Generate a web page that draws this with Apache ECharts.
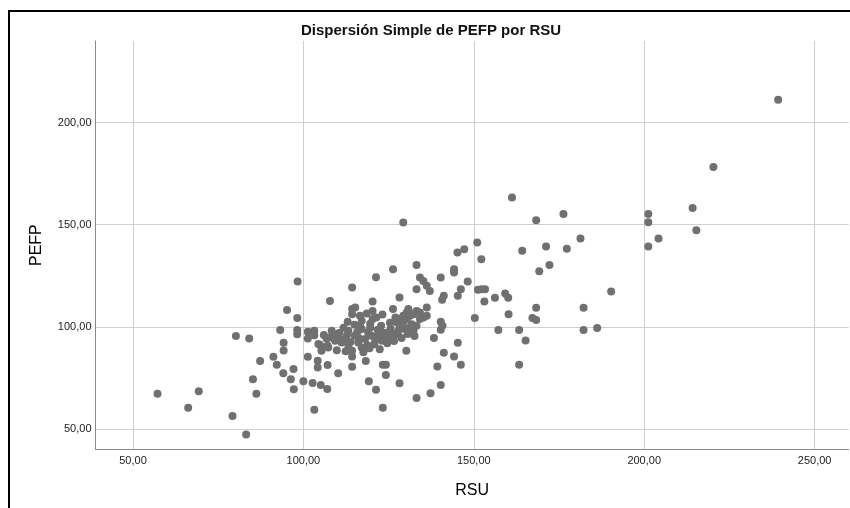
<!DOCTYPE html>
<html>
<head>
<meta charset="utf-8">
<script src="https://cdn.jsdelivr.net/npm/echarts@6/dist/echarts.min.js"></script>
<style>
html,body{margin:0;padding:0;background:#fff;}
#c{width:850px;height:508px;}
</style>
</head>
<body>
<div id="c"></div>
<script>
// Data: RSU (x) and PEFP (y)
const rsu = [
  57.2,69.3,66.2,79.2,83.2,80.2,84.1,87.3,85.2,86.2,91.2,92.2,94.1,96.3,97.2,97.1,94.2,94.2,93.2,95.2,
  98.2,98.2,98.2,101.3,101.3,103.2,103.2,101.3,104.2,104.2,100.0,102.7,105.1,107.1,107.0,103.2,104.4,105.4,106.8,107.1,
  107.8,
  129.3,98.3,110.2,114.3,121.3,126.3,133.2,114.3,115.2,114.3,116.6,117.1,116.6,117.1,120.3,120.3,120.3,126.3,128.2,
  134.2,135.2,136.2,137.1,133.2,136.2,136.2,140.3,144.2,144.2,145.2,147.2,151.0,148.2,146.2,145.3,141.2,140.7,151.2,150.3,
  140.3,140.8,140.3,138.3,145.3,130.2,141.2,144.2,146.2,139.3,140.3,137.3,133.2,128.2,124.2,123.3,124.2,119.2,121.3,123.3,
  118.3,114.3,114.3,114.3,
  104.9,105.3,107.3,108.3,108.8,107.8,109.3,110.2,111.2,112.2,113.2,113.2,115.1,116.1,117.1,118.1,119.0,120.0,121.0,122.0,
  122.5,123.0,123.9,124.9,125.9,126.9,127.9,128.3,129.3,130.3,131.3,132.3,133.2,127.4,128.3,129.3,130.3,130.8,131.8,132.3,
  133.2,134.2,135.2,134.2,
  110.5,111.8,112.8,113.8,115.8,116.2,118.8,119.6,120.8,121.8,122.8,123.8,124.6,125.6,126.6,127.4,128.8,129.6,130.6,131.4,
  132.6,106.0,109.8,112.4,117.6,119.4,122.4,125.4,127.0,119.6,115.0,113.0,121.4,123.2,118.6,
  239.3,220.3,214.2,215.3,201.2,201.2,204.2,201.2,161.2,168.3,176.3,181.3,177.3,171.2,172.2,169.2,164.2,152.2,152.3,153.3,
  153.1,156.2,159.2,160.1,160.2,157.2,163.3,165.2,163.3,168.3,167.2,168.3,182.2,182.2,186.2,190.3
];
const pefp = [
  67.2,68.4,60.4,56.3,47.3,95.5,94.3,83.2,74.3,67.2,85.3,81.4,77.3,74.3,69.4,79.3,88.4,92.2,98.4,108.2,
  104.3,98.4,96.4,97.6,94.3,98.1,95.9,85.3,83.4,80.1,73.3,72.5,71.5,81.3,69.5,59.4,91.6,89.1,94.3,90.7,
  112.7,
  151.1,122.2,77.3,119.3,124.3,128.2,130.3,108.7,109.5,106.2,105.4,103.0,100.5,98.9,112.4,107.8,103.8,108.7,114.4,
  124.2,122.5,120.1,117.6,118.4,109.5,105.4,124.2,128.2,126.6,136.4,138.0,141.3,122.2,118.4,115.2,115.2,113.2,118.1,104.3,
  102.5,100.5,98.5,94.5,92.2,88.3,87.3,85.5,81.4,80.5,71.5,67.4,65.1,72.3,76.4,81.4,81.4,73.3,69.2,60.4,
  83.2,85.5,80.4,88.3,
  91.1,88.3,89.9,98.1,96.4,94.8,93.2,94.8,92.3,94.0,98.1,90.7,95.6,92.3,89.9,94.0,97.3,95.6,94.0,96.4,
  98.1,93.2,94.8,97.3,94.0,96.4,98.1,99.7,102.1,103.8,105.4,106.2,107.8,102.1,103.8,105.4,107.0,108.7,101.3,98.1,
  100.5,103.8,104.6,107.0,
  97.0,99.5,96.0,92.5,97.5,94.5,91.0,99.5,91.5,98.5,100.5,97.0,92.0,99.0,93.0,96.5,94.5,99.0,96.5,100.0,
  95.5,96.0,88.5,88.0,87.5,89.5,89.0,102.0,104.5,101.5,101.0,102.5,104.5,106.0,106.5,
  211.2,178.3,158.2,147.3,155.3,151.2,143.2,139.3,163.3,152.2,155.3,143.2,138.2,139.3,130.3,127.2,137.2,133.1,118.4,118.4,
  112.4,114.2,116.3,114.2,106.2,98.4,98.4,93.3,81.4,109.3,104.3,103.3,109.3,98.4,99.4,117.3
];
const xTicks = [50, 100, 150, 200, 250];
const yTicks = [50, 100, 150, 200];

const points = rsu.map((x, i) => [x, pefp[i]]);
const fmt = v => v.toFixed(2).replace('.', ',');
const FONT = '"Liberation Sans", Arial, sans-serif';

const chart = echarts.init(document.getElementById('c'), null, {renderer: 'canvas'});
chart.setOption({
  animation: false,
  backgroundColor: '#ffffff',
  title: {
    text: 'Dispersión Simple de PEFP por RSU',
    left: 296, top: 18,
    textStyle: {fontFamily: FONT, fontSize: 15, fontWeight: 'bold', color: '#111'}
  },
  grid: {left: 95.5, top: 41, right: 1.3, bottom: 58.7},
  xAxis: {
    type: 'value', min: 39, max: 260,
    name: 'RSU', nameLocation: 'middle', nameGap: 33,
    nameTextStyle: {fontFamily: FONT, fontSize: 16, color: '#000'},
    axisLine: {show: true, lineStyle: {color: '#8a8a8a', width: 1}},
    axisTick: {show: false, customValues: xTicks},
    axisLabel: {customValues: xTicks, formatter: fmt, margin: 6,
      fontFamily: FONT, fontSize: 11, color: '#222'},
    splitLine: {show: true, lineStyle: {color: '#cfcfcf', width: 1}}
  },
  yAxis: {
    type: 'value', min: 40, max: 240,
    name: 'PEFP', nameLocation: 'middle', nameGap: 51, nameRotate: 90,
    nameTextStyle: {fontFamily: FONT, fontSize: 16, color: '#000'},
    axisLine: {show: true, lineStyle: {color: '#8a8a8a', width: 1}},
    axisTick: {show: false, customValues: yTicks},
    axisLabel: {customValues: yTicks, formatter: fmt, margin: 4,
      fontFamily: FONT, fontSize: 11, color: '#222'},
    splitLine: {show: true, lineStyle: {color: '#cfcfcf', width: 1}}
  },
  graphic: [
    {type: 'line', shape: {x1: 9, y1: 11, x2: 850, y2: 11}, style: {stroke: '#000', lineWidth: 2}, silent: true},
    {type: 'line', shape: {x1: 9, y1: 10, x2: 9, y2: 508}, style: {stroke: '#000', lineWidth: 2}, silent: true}
  ],
  series: [{
    type: 'scatter',
    data: points,
    symbol: 'circle',
    symbolSize: 8,
    itemStyle: {color: '#707070', opacity: 1},
    emphasis: {disabled: true}
  }]
});
</script>
</body>
</html>
